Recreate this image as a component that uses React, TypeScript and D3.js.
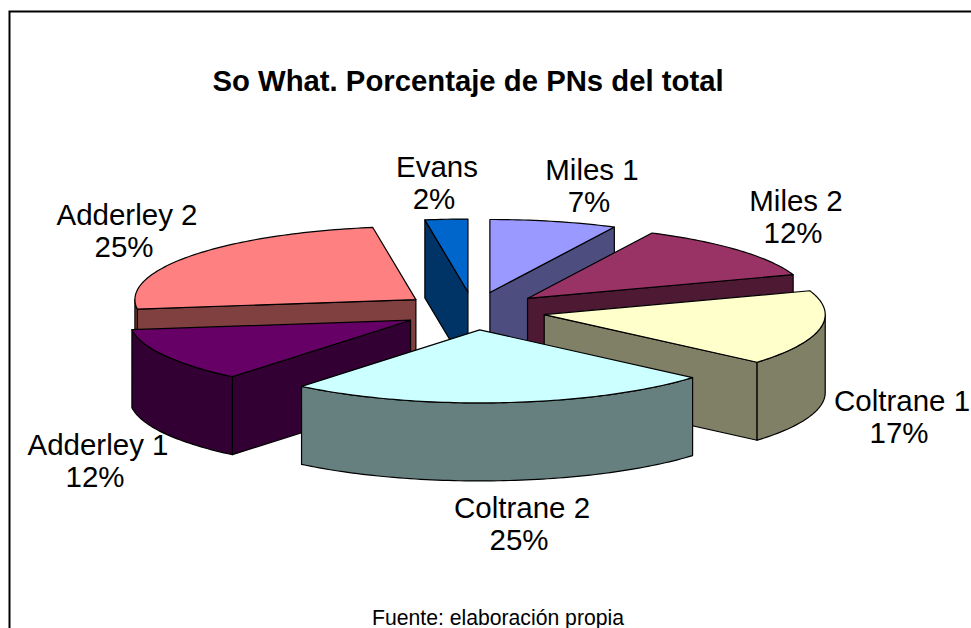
import React from "react";
import * as d3 from "d3";

// App.tsx - 3D exploded pie, drawn back to front
const categories = ["Miles 1", "Miles 2", "Coltrane 1", "Coltrane 2", "Adderley 1", "Adderley 2", "Evans"];
const shares = [7.3, 12.4, 16.6, 24.6, 12, 24.6, 2.45];
const topColors = ["#9999FF", "#993366", "#FFFFCC", "#CCFFFF", "#660066", "#FF8080", "#0066CC"];
const wallColors = ["#4D4D80", "#4D1933", "#808066", "#668080", "#330033", "#804040", "#003366"];
// painter's order, indexes into categories
const drawOrder = [6, 0, 5, 1, 4, 2, 3];
const labelX = [592, 796, 902, 522, 98, 127, 437];
const labelY = [170, 201, 401, 508, 445, 215, 167];

const width = 971;
const height = 628;
const cx = 473.5;
const cy = 311;
const rx = 281;
const ry = 73;
const depth = 78;
const explodeX = 72;
const explodeY = 19;

const total = d3.sum(shares);
const pctFormat = d3.format(".0%");
const pieData = d3.pie<number>().sort(null).startAngle(0).endAngle(2 * Math.PI)(shares);

const line = d3.line<[number, number]>();

const sweep = (a0: number, a1: number, ox: number, oy: number): [number, number][] => {
  const n = Math.max(2, Math.ceil((a1 - a0) / 0.02));
  return d3.range(n + 1).map((i) => {
    const a = a0 + ((a1 - a0) * i) / n;
    return [ox + rx * Math.sin(a), oy - ry * Math.cos(a)] as [number, number];
  });
};

const Slice = ({ i }: { i: number }) => {
  const d = pieData[i];
  const mid = (d.startAngle + d.endAngle) / 2;
  const ox = cx + explodeX * Math.sin(mid);
  const oy = cy - explodeY * Math.cos(mid);
  const arc = sweep(d.startAngle, d.endAngle, ox, oy);
  const apex: [number, number] = [ox, oy];
  const down = (p: [number, number]): [number, number] => [p[0], p[1] + depth];
  const cutFace = (p: [number, number]) => line([apex, p, down(p), down(apex)]) + "Z";

  // a cut face only shows when its outward side points at the viewer
  const showStart = Math.sin(d.startAngle) < -1e-6;
  const showEnd = Math.sin(d.endAngle) > 1e-6;

  // outer wall only where the rim faces the viewer
  const a0 = Math.max(d.startAngle, Math.PI / 2);
  const a1 = Math.min(d.endAngle, (3 * Math.PI) / 2);
  const rim = a1 > a0 ? sweep(a0, a1, ox, oy) : null;

  const style = { stroke: "#000", strokeWidth: 1.2, strokeLinejoin: "round" as const };
  return (
    <g>
      {showStart && <path d={cutFace(arc[0])} fill={wallColors[i]} {...style} />}
      {showEnd && <path d={cutFace(arc[arc.length - 1])} fill={wallColors[i]} {...style} />}
      {rim && <path d={line([...rim, ...rim.map(down).reverse()]) + "Z"} fill={wallColors[i]} {...style} />}
      <path d={line([apex, ...arc]) + "Z"} fill={topColors[i]} {...style} />
    </g>
  );
};

export default function App() {
  const font = "'Liberation Sans', Arial, sans-serif";
  return (
    <svg width={width} height={height} style={{ position: "fixed", left: 0, top: 0, background: "#fff" }} fontFamily={font}>
      <path d={`M9.5,${height}V11.5H${width}`} fill="none" stroke="#000" strokeWidth={2} />
      <text x={468} y={91} textAnchor="middle" fontSize={29.3} fontWeight="bold">
        So What. Porcentaje de PNs del total
      </text>
      {drawOrder.map((i) => (
        <Slice key={i} i={i} />
      ))}
      {categories.map((c, i) => (
        <text key={c} textAnchor="middle" fontSize={29.5} fill="#000">
          <tspan x={labelX[i]} y={labelY[i] + 10}>{c}</tspan>
          <tspan x={labelX[i] - 3} dy={32}>{pctFormat(shares[i] / total)}</tspan>
        </text>
      ))}
      <text x={498} y={625} textAnchor="middle" fontSize={21.2}>
        Fuente: elaboración propia
      </text>
    </svg>
  );
}
